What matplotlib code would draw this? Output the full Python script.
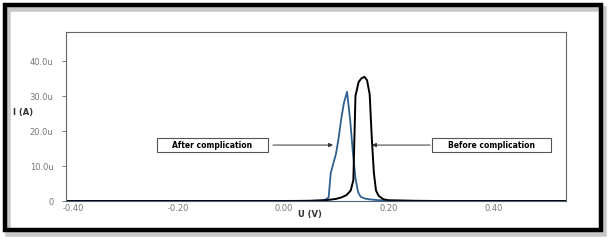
import numpy as np
import matplotlib
matplotlib.use("Agg")
from matplotlib import pyplot as plt
from matplotlib.patches import Rectangle

# voltage (V) and current (uA)
after_u = [-0.413, 0.00, 0.05, 0.07, 0.08, 0.086, 0.09, 0.10, 0.105, 0.11, 0.115, 0.121,
           0.127, 0.132, 0.137, 0.142, 0.147, 0.155, 0.165, 0.18, 0.20, 0.25, 0.30, 0.40, 0.537]
after_i = [0.0, 0.0, 0.05, 0.15, 0.4, 1.0, 8.0, 13.5, 18.0, 23.5, 28.0, 31.2,
           23.0, 14.0, 6.5, 2.5, 1.2, 0.7, 0.45, 0.25, 0.12, 0.05, 0.02, 0.0, 0.0]

before_u = [-0.413, 0.00, 0.05, 0.08, 0.10, 0.11, 0.12, 0.128, 0.133, 0.137, 0.143, 0.148,
            0.154, 0.159, 0.164, 0.168, 0.172, 0.176, 0.181, 0.19, 0.20, 0.25, 0.30, 0.537]
before_i = [0.0, 0.0, 0.05, 0.2, 0.6, 1.0, 1.7, 3.0, 6.0, 30.0, 34.0, 35.0,
            35.5, 34.5, 30.5, 18.0, 8.0, 3.0, 1.5, 0.5, 0.2, 0.05, 0.0, 0.0]

x_ticks = [-0.40, -0.20, 0.00, 0.20, 0.40]
x_labels = ["-0.40", "-0.20", "0.00", "0.20", "0.40"]
y_ticks = [0, 10, 20, 30, 40]
y_labels = ["0", "10.0u", "20.0u", "30.0u", "40.0u"]

fig = plt.figure(figsize=(6.14, 2.42), dpi=100)
fig.patch.set_facecolor("white")

# frame with shadow
shadow = Rectangle((0.013, 0.033), 0.9705, 0.93, transform=fig.transFigure,
                   fill=False, edgecolor="#c8c8c8", linewidth=4)
fig.patches.append(shadow)
frame = Rectangle((0.0081, 0.0496), 0.9707, 0.9298, transform=fig.transFigure,
                  fill=False, edgecolor="black", linewidth=3.2)
fig.patches.append(frame)

ax = fig.add_axes([0.1075, 0.1694, 0.8143, 0.6984])
ax.plot(after_u, after_i, color="#2f5f8f", linewidth=1.3)
ax.plot(before_u, before_i, color="black", linewidth=1.4)

ax.set_xlim(-0.413, 0.537)
ax.set_ylim(0, 48.3)
ax.set_xticks(x_ticks)
ax.set_xticklabels(x_labels)
ax.set_yticks(y_ticks)
ax.set_yticklabels(y_labels)
ax.tick_params(axis="x", length=0, pad=2, labelsize=6, labelcolor="#777777")
ax.tick_params(axis="y", length=3, width=0.6, color="#666666", pad=6,
               labelsize=6, labelcolor="#777777")
for s in ax.spines.values():
    s.set_color("#666666")
    s.set_linewidth(0.8)
ax.spines["bottom"].set_color("#4a6480")

fig.text(23 / 614, 1 - 113 / 242, "I (A)", fontsize=6, fontweight="bold",
         color="#333333", ha="center", va="center")
fig.text(310 / 614, 1 - 215 / 242, "U (V)", fontsize=6, fontweight="bold",
         color="#333333", ha="center", va="center")

# annotation boxes
boxes = [(0.182, 0.222, "After complication"), (0.732, 0.238, "Before complication")]
for x0, w, txt in boxes:
    ax.add_patch(Rectangle((x0, 0.29), w, 0.083, transform=ax.transAxes,
                           fill=True, facecolor="white", edgecolor="#555555",
                           linewidth=0.8, clip_on=False, zorder=5))
    ax.text(x0 + w / 2, 0.331, txt, transform=ax.transAxes, fontsize=5.5,
            fontweight="bold", ha="center", va="center", zorder=6)

ax.annotate("", xy=(0.534, 0.331), xytext=(0.414, 0.331), xycoords="axes fraction",
            arrowprops=dict(arrowstyle="-|>", color="#333333", lw=0.7,
                            mutation_scale=6, shrinkA=0, shrinkB=0))
ax.annotate("", xy=(0.612, 0.331), xytext=(0.728, 0.331), xycoords="axes fraction",
            arrowprops=dict(arrowstyle="-|>", color="#333333", lw=0.7,
                            mutation_scale=6, shrinkA=0, shrinkB=0))

fig.savefig("out.png", dpi=100)
